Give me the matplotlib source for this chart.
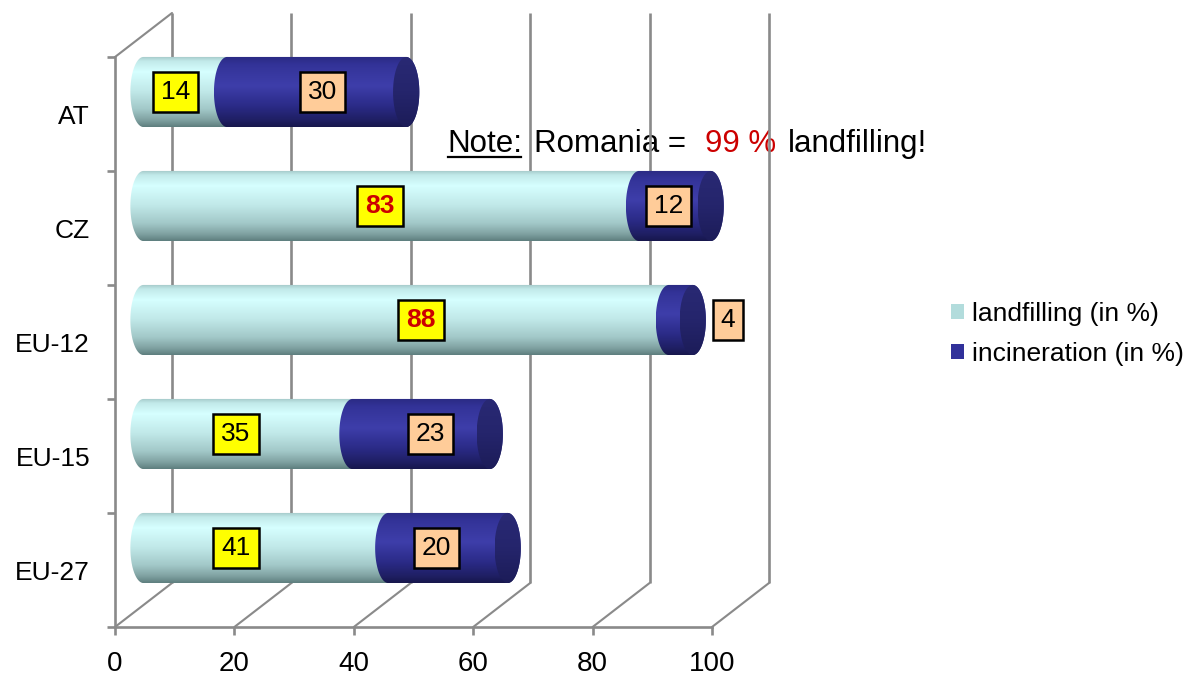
import numpy as np
import matplotlib
matplotlib.use("Agg")
import matplotlib.pyplot as plt
from matplotlib.path import Path
from matplotlib.patches import PathPatch, Patch, ConnectionPatch
from matplotlib.colors import LinearSegmentedColormap
from matplotlib.transforms import ScaledTranslation
from matplotlib.lines import Line2D

plt.rcParams['font.family'] = ['Liberation Sans', 'DejaVu Sans']

# ---- data -------------------------------------------------------------
categories = ['EU-27', 'EU-15', 'EU-12', 'CZ', 'AT']
landfilling = [41, 35, 88, 83, 14]
incineration = [20, 23, 4, 12, 30]
x_ticks = [0, 20, 40, 60, 80, 100]
series_names = ['landfilling (in %)', 'incineration (in %)']
highlighted = {'CZ', 'EU-12'}

# label placement tweaks (value units, relative to segment centre)
land_nudge = [-5.0, -2.0, 2.5, -1.9, -1.6]
inc_nudge = [-1.9, 1.6, 7.9, -1.1, 1.0]

# ---- style ------------------------------------------------------------
GRID = '#8a8a8a'
GRID_LW = 1.9
DEPTH_X, DEPTH_Y = 0.57, 0.44     # inches, depth of the 3-D box
BAR_H = 0.615                     # bar thickness in category units
CAP_RX = 2.2                      # horizontal radius of the round ends

light_cmap = LinearSegmentedColormap.from_list('light', [
    (0.00, '#a2c6c6'), (0.07, '#c2eaea'), (0.22, '#d6ffff'),
    (0.50, '#c0e8e8'), (0.75, '#a2c8c8'), (0.90, '#80a2a2'), (1.00, '#5e7e7e')])
dark_cmap = LinearSegmentedColormap.from_list('dark', [
    (0.00, '#2a2a82'), (0.12, '#333398'), (0.42, '#3e3eaa'),
    (0.70, '#2b2b88'), (0.90, '#1f1f64'), (1.00, '#17174c')])
cap_cmap = LinearSegmentedColormap.from_list('cap', [
    (0.0, '#292974'), (0.5, '#25256c'), (1.0, '#1c1c58')])

fig = plt.figure(figsize=(11.87, 6.80), dpi=100)
ax = fig.add_axes([115 / 1187, 53 / 680, 597 / 1187, 570 / 680])
ax.set_autoscale_on(False)
ax.set_xlim(0, 100)
ax.set_ylim(-0.5, len(categories) - 0.5)
ax.patch.set_visible(False)

trans_back = ax.transData + ScaledTranslation(DEPTH_X, DEPTH_Y, fig.dpi_scale_trans)
trans_mid = ax.transData + ScaledTranslation(DEPTH_X / 2, DEPTH_Y / 2, fig.dpi_scale_trans)

y_lo, y_hi = -0.5, len(categories) - 0.5

# ---- box: back wall, floor, left wall --------------------------------
for v in x_ticks:
    ax.plot([v, v], [y_lo, y_hi], color=GRID, lw=GRID_LW, transform=trans_back,
            clip_on=False, zorder=2, solid_capstyle='butt')
    ax.add_artist(ConnectionPatch((v, y_lo), (v, y_lo), coordsA=ax.transData,
                                  coordsB=trans_back, color=GRID, lw=GRID_LW * 0.8,
                                  zorder=2, clip_on=False))
ax.add_artist(ConnectionPatch((0, y_hi), (0, y_hi), coordsA=ax.transData,
                              coordsB=trans_back, color=GRID, lw=GRID_LW * 0.8,
                              zorder=2, clip_on=False))

for side in ['top', 'right']:
    ax.spines[side].set_visible(False)
for side in ['left', 'bottom']:
    ax.spines[side].set_color(GRID)
    ax.spines[side].set_linewidth(GRID_LW)
    ax.spines[side].set_zorder(2)

ax.set_xticks(x_ticks)
ax.set_xticklabels([str(t) for t in x_ticks])
ax.set_yticks(np.arange(-0.5, len(categories), 1.0))
ax.set_yticklabels([])
ax.set_yticks(np.arange(len(categories)), minor=True)
ax.set_yticklabels(categories, minor=True)
ax.tick_params(axis='x', direction='out', length=6, width=GRID_LW, color=GRID,
               labelsize=20, pad=11)
ax.tick_params(axis='y', which='major', direction='out', length=6, width=GRID_LW,
               color=GRID)
ax.tick_params(axis='y', which='minor', length=0, labelsize=19, pad=18)


# ---- cylinders ---------------------------------------------------------
def half_ellipse(xc, yc, rx, ry, side):
    if side == 'left':
        t = np.linspace(-np.pi / 2, np.pi / 2, 48)
        return np.column_stack([xc - rx * np.cos(t), yc + ry * np.sin(t)])
    t = np.linspace(np.pi / 2, -np.pi / 2, 48)
    return np.column_stack([xc + rx * np.cos(t), yc + ry * np.sin(t)])


def gradient_fill(path, x0, x1, yc, cmap, zorder):
    patch = PathPatch(path, transform=trans_mid, facecolor='none', edgecolor='none')
    grad = np.linspace(0, 1, 256).reshape(-1, 1)
    im = ax.imshow(grad, cmap=cmap, aspect='auto', origin='upper',
                   extent=[x0, x1, yc - BAR_H / 2, yc + BAR_H / 2],
                   transform=trans_mid, zorder=zorder, interpolation='bilinear')
    im.set_clip_path(patch)
    im.set_clip_box(fig.bbox)


def body(a, c, yc, cmap, zorder):
    ry = BAR_H / 2
    pts = np.vstack([half_ellipse(a, yc, CAP_RX, ry, 'left'),
                     half_ellipse(c, yc, CAP_RX, ry, 'right')])
    pts = np.vstack([pts, pts[:1]])
    gradient_fill(Path(pts, closed=True), a - CAP_RX, c + CAP_RX, yc, cmap, zorder)


def end_cap(c, yc, zorder):
    ry = BAR_H / 2
    t = np.linspace(0, 2 * np.pi, 96)
    pts = np.column_stack([c + CAP_RX * np.cos(t), yc + ry * np.sin(t)])
    gradient_fill(Path(pts, closed=True), c - CAP_RX, c + CAP_RX, yc, cap_cmap, zorder)


box_text = dict(fontsize=19, ha='center', va='center', transform=trans_mid, zorder=20)

for i, cat in enumerate(categories):
    lf = landfilling[i]
    inc = incineration[i]
    total = lf + inc
    z = 5 + (len(categories) - i) * 0.1
    body(0, lf, i, light_cmap, z)
    body(lf, total, i, dark_cmap, z + 0.01)
    end_cap(total, i, z + 0.02)

    emph = cat in highlighted
    ax.text(lf / 2 + land_nudge[i], i, str(lf),
            color='#cc0000' if emph else 'black',
            fontweight='bold' if emph else 'normal',
            bbox=dict(boxstyle='square,pad=0.3', fc='#ffff00', ec='black', lw=1.8),
            **box_text)
    ax.text(lf + inc / 2 + inc_nudge[i], i, str(inc), color='black',
            bbox=dict(boxstyle='square,pad=0.3', fc='#ffcc99', ec='black', lw=1.8),
            **box_text)

# ---- note ---------------------------------------------------------------
note_kw = dict(fontsize=22.5, zorder=1, annotation_clip=False)
t0 = ax.text(447 / 1187, 1 - 152 / 680, 'Note:', transform=fig.transFigure,
             fontsize=22.5, va='baseline', ha='left', zorder=1, clip_on=False)
t1 = ax.annotate('Romania =', xy=(1, 0), xycoords=t0, xytext=(8.5, 0),
                 textcoords='offset points', va='bottom', ha='left', **note_kw)
t2 = ax.annotate('99 %', xy=(1, 0), xycoords=t1, xytext=(13.5, 0),
                 textcoords='offset points', va='bottom', ha='left',
                 color='#cc0000', **note_kw)
t3 = ax.annotate('landfilling!', xy=(1, 0), xycoords=t2, xytext=(8.5, 0),
                 textcoords='offset points', va='bottom', ha='left', **note_kw)

# ---- legend ---------------------------------------------------------------
handles = [Patch(facecolor='#b2dcdc', edgecolor='none'),
           Patch(facecolor='#31319a', edgecolor='none')]
fig.legend(handles, series_names, loc='center left',
           bbox_to_anchor=(951 / 1187, 1 - 334 / 680), frameon=False,
           fontsize=19, handlelength=0.5, handleheight=0.5, handletextpad=0.3,
           labelspacing=0.6, borderpad=0, borderaxespad=0)

# underline under "Note:"
fig.canvas.draw()
bb = t0.get_window_extent()
base_y = bb.y0 + (bb.y1 - bb.y0) * 0.17
fig.add_artist(Line2D([bb.x0 + 1, bb.x1 - 1], [base_y - 3, base_y - 3],
                      transform=None, color='black', lw=1.6))

fig.savefig('out.png', dpi=100)
